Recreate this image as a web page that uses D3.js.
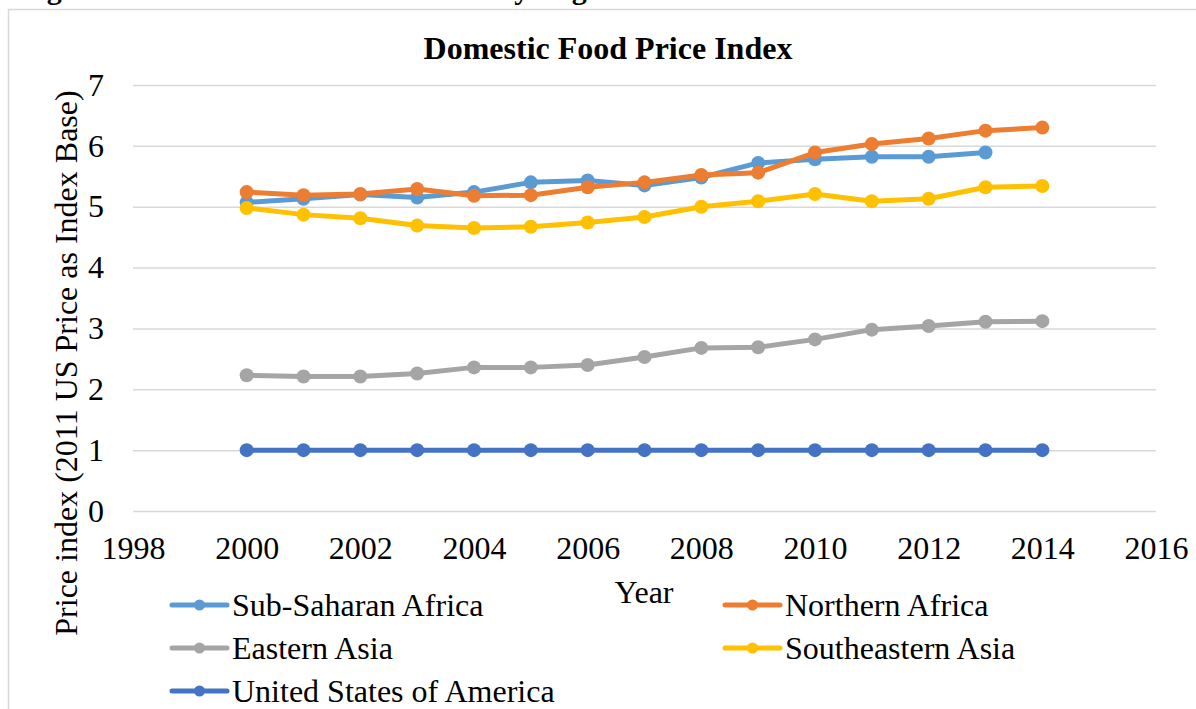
<!DOCTYPE html>
<html>
<head>
<meta charset="utf-8">
<script src="https://cdn.jsdelivr.net/npm/d3@7"></script>
<style>
  body { margin: 0; background: #fff; }
  svg text { font-family: "Liberation Serif", "Times New Roman", serif; fill: #000; }
</style>
</head>
<body>
<svg id="chart" width="1196" height="709"></svg>
<script>
// data
const years = [2000, 2001, 2002, 2003, 2004, 2005, 2006, 2007, 2008, 2009, 2010, 2011, 2012, 2013, 2014]
const subSaharan = [5.07, 5.13, 5.20, 5.15, 5.24, 5.40, 5.43, 5.35, 5.48, 5.72, 5.78, 5.82, 5.82, 5.89, null]
const northernAfrica = [5.24, 5.19, 5.21, 5.29, 5.18, 5.19, 5.32, 5.40, 5.52, 5.56, 5.89, 6.03, 6.12, 6.25, 6.30]
const easternAsia = [2.23, 2.21, 2.21, 2.26, 2.36, 2.36, 2.40, 2.53, 2.68, 2.69, 2.82, 2.98, 3.04, 3.11, 3.12]
const southeasternAsia = [4.98, 4.87, 4.81, 4.69, 4.65, 4.67, 4.74, 4.83, 5.00, 5.09, 5.21, 5.09, 5.13, 5.32, 5.34]
const usa = [1, 1, 1, 1, 1, 1, 1, 1, 1, 1, 1, 1, 1, 1, 1]

const seriesNames = ['Sub-Saharan Africa', 'Northern Africa', 'Eastern Asia', 'Southeastern Asia', 'United States of America']
const seriesValues = [subSaharan, northernAfrica, easternAsia, southeasternAsia, usa]
const seriesColors = ['#5B9BD5', '#ED7D31', '#A5A5A5', '#FFC000', '#4472C4']

const xTicks = [1998, 2000, 2002, 2004, 2006, 2008, 2010, 2012, 2014, 2016]
const yTicks = [0, 1, 2, 3, 4, 5, 6, 7]

const serif = '"Liberation Serif", "Times New Roman", serif'

let svg = d3.select('#chart').attr('font-family', serif)

// plot area
const plotLeft = 133, plotRight = 1156, plotTop = 85, plotBottom = 511

let x = d3.scaleLinear().domain([1998, 2016]).range([plotLeft, plotRight])
let y = d3.scaleLinear().domain([0, 7]).range([plotBottom, plotTop])

// caption of the page, mostly cut off above the frame
svg.append('text')
    .attr('x', 20)
    .attr('y', -1.5)
    .attr('font-size', 30)
    .attr('font-weight', 'bold')
    .text('Figure 3: Domestic Food Price Index by Region')

// chart frame
svg.append('rect')
    .attr('x', 8.5).attr('y', 9.5)
    .attr('width', 1300).attr('height', 800)
    .attr('fill', '#fff')
    .attr('stroke', '#d9d9d9')
    .attr('stroke-width', 1.5)

// y axis with gridlines
let yAxis = svg.append('g')
    .attr('transform', `translate(${plotLeft},0)`)
    .call(d3.axisLeft(y).tickValues(yTicks).tickFormat(d3.format('d'))
        .tickSize(-(plotRight - plotLeft)).tickPadding(29))
    .attr('font-family', serif)
yAxis.select('.domain').remove()
yAxis.selectAll('line').attr('stroke', '#d9d9d9').attr('stroke-width', 1.5)
yAxis.selectAll('text').attr('font-size', 32)

// x axis, labels only
let xAxis = svg.append('g')
    .attr('transform', `translate(0,${plotBottom})`)
    .call(d3.axisBottom(x).tickValues(xTicks).tickFormat(d3.format('d'))
        .tickSize(0).tickPadding(25))
    .attr('font-family', serif)
xAxis.select('.domain').remove()
xAxis.selectAll('text').attr('font-size', 32)

// title
svg.append('text')
    .attr('x', 608).attr('y', 59)
    .attr('text-anchor', 'middle')
    .attr('font-size', 32)
    .attr('font-weight', 'bold')
    .text('Domestic Food Price Index')

// axis titles
svg.append('text')
    .attr('transform', 'translate(77,363) rotate(-90)')
    .attr('text-anchor', 'middle')
    .attr('font-size', 32)
    .text('Price index (2011 US Price as Index Base)')

svg.append('text')
    .attr('x', 644).attr('y', 603)
    .attr('text-anchor', 'middle')
    .attr('font-size', 32)
    .text('Year')

// lines and markers
let line = d3.line()
    .defined(d => d.v != null)
    .x(d => x(d.year))
    .y(d => y(d.v))

seriesValues.forEach((vals, i) => {
    let pts = years.map((yr, j) => ({ year: yr, v: vals[j] }))
    let g = svg.append('g')
    g.append('path')
        .attr('d', line(pts))
        .attr('fill', 'none')
        .attr('stroke', seriesColors[i])
        .attr('stroke-width', 5)
        .attr('stroke-linejoin', 'round')
        .attr('stroke-linecap', 'round')
    g.selectAll('circle')
        .data(pts.filter(d => d.v != null))
        .enter()
        .append('circle')
        .attr('cx', d => x(d.year))
        .attr('cy', d => y(d.v))
        .attr('r', 7)
        .attr('fill', seriesColors[i])
})

// legend, two columns filled row by row
let legend = svg.append('g')
seriesNames.forEach((name, i) => {
    let lx = i % 2 === 0 ? 172 : 725
    let ly = 605 + Math.floor(i / 2) * 43
    let item = legend.append('g').attr('transform', `translate(${lx},${ly})`)
    item.append('line')
        .attr('x1', 0).attr('x2', 55)
        .attr('stroke', seriesColors[i])
        .attr('stroke-width', 5)
        .attr('stroke-linecap', 'round')
    item.append('circle')
        .attr('cx', 27.5).attr('r', 5.5)
        .attr('fill', seriesColors[i])
    item.append('text')
        .attr('x', 60).attr('y', 11)
        .attr('font-size', 32)
        .text(name)
})
</script>
</body>
</html>
